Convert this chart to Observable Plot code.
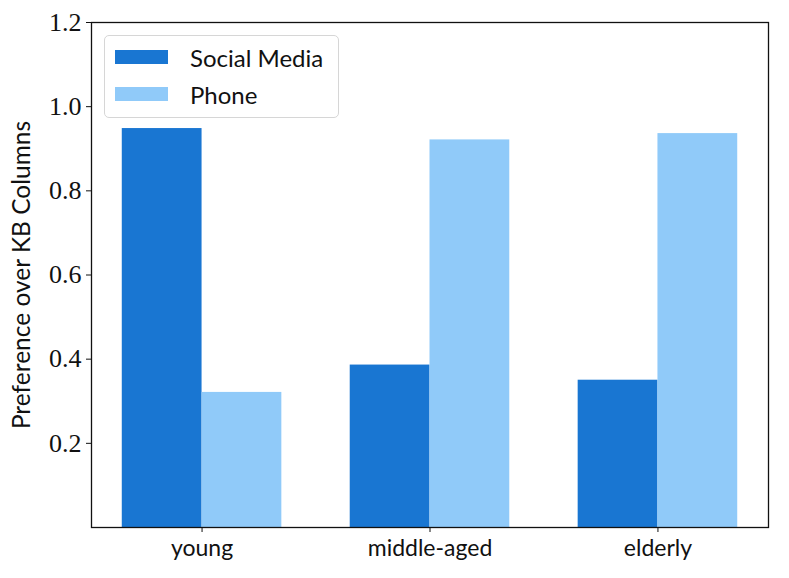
<!DOCTYPE html>
<html>
<head>
<meta charset="utf-8">
<script src="https://cdn.jsdelivr.net/npm/d3@7"></script>
<script src="https://cdn.jsdelivr.net/npm/@observablehq/plot@0.6"></script>
<style>
  html, body { margin: 0; padding: 0; background: #fff; }
  #wrap { position: relative; width: 789px; height: 578px; }
  #legend {
    position: absolute; left: 104px; top: 35px; width: 235px; height: 83px;
    border: 1.5px solid #d6d6d6; border-radius: 5px; background: rgba(255,255,255,0.8);
    box-sizing: border-box; font-family: Lato, "Noto Sans", sans-serif; font-size: 24px; color: #111;
  }
  .item { position: absolute; left: 10px; display: flex; align-items: center; height: 30px; }
  .sw { width: 53px; height: 14px; margin-right: 22px; }
</style>
</head>
<body>
<div id="wrap"></div>
<script>
const categories = ["young", "middle-aged", "elderly"];
const series = ["Social Media", "Phone"];
const socialMedia = [0.948, 0.386, 0.350];
const phone = [0.321, 0.921, 0.936];
const colors = ["#1976D2", "#90CAF9"];
const yTicks = [0.2, 0.4, 0.6, 0.8, 1.0, 1.2];
const barWidth = 0.35;

const rows = [];
categories.forEach((c, i) => {
  rows.push({category: c, series: series[0], value: socialMedia[i], x1: i - barWidth, x2: i});
  rows.push({category: c, series: series[1], value: phone[i], x1: i, x2: i + barWidth});
});

const serif = "'Liberation Serif', 'DejaVu Serif', serif";
const sans = "Lato, 'Noto Sans', sans-serif";

const chart = Plot.plot({
  width: 789,
  height: 578,
  marginLeft: 91,
  marginRight: 21,
  marginTop: 22,
  marginBottom: 51,
  x: {domain: [-0.485, 2.485], axis: null},
  y: {domain: [0, 1.2], axis: null},
  color: {domain: series, range: colors},
  marks: [
    Plot.rectY(rows, {x1: "x1", x2: "x2", y1: 0, y2: "value", fill: "series"}),
    Plot.frame({stroke: "#111", strokeWidth: 1.3}),
    Plot.axisY({ticks: yTicks, tickFormat: d3.format(".1f"), tickSize: 5, tickPadding: 5,
      fontSize: 26, fontFamily: serif, label: null, stroke: "#111", color: "#111"}),
    Plot.axisX({ticks: [0, 1, 2], tickFormat: i => categories[i], tickSize: 5, tickPadding: 7,
      fontSize: 23, fontFamily: sans, label: null, stroke: "#111", color: "#111"}),
    Plot.text(["Preference over KB Columns"], {frameAnchor: "left", dx: -69, rotate: -90,
      textAnchor: "middle", fontSize: 24.5, fontFamily: sans, fill: "#111"})
  ]
});
document.getElementById("wrap").appendChild(chart);

const legend = document.createElement("div");
legend.id = "legend";
series.forEach((s, i) => {
  const item = document.createElement("div");
  item.className = "item";
  item.style.top = (i === 0 ? 6 : 43) + "px";
  item.innerHTML = `<div class="sw" style="background:${colors[i]}"></div><span>${s}</span>`;
  legend.appendChild(item);
});
document.getElementById("wrap").appendChild(legend);
</script>
</body>
</html>
